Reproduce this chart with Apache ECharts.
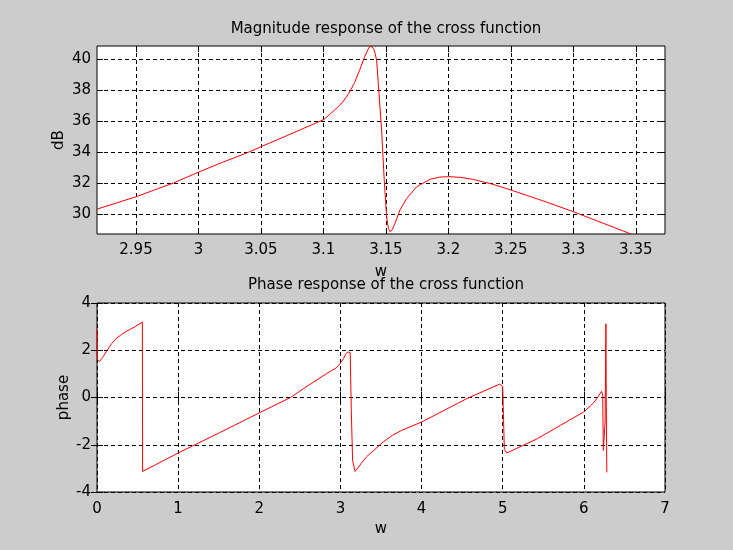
<!DOCTYPE html>
<html>
<head>
<meta charset="utf-8">
<script src="https://cdn.jsdelivr.net/npm/echarts@6/dist/echarts.min.js"></script>
<style>
html,body{margin:0;padding:0;background:#cccccc;}
#chart{width:733px;height:550px;}
</style>
</head>
<body>
<div id="chart"></div>
<script>
// ---- Magnitude response (top) ----
const magW = [2.9188, 2.93, 2.95, 2.965, 2.98, 3.0, 3.02, 3.04, 3.05, 3.07, 3.09, 3.1, 3.105, 3.11, 3.115, 3.12, 3.125, 3.129, 3.133, 3.1355, 3.1373, 3.139, 3.1407, 3.1426, 3.1466, 3.1487, 3.1506, 3.152, 3.1533, 3.155, 3.1573, 3.1613, 3.1667, 3.1747, 3.1853, 3.193, 3.2004, 3.21, 3.22, 3.235, 3.25, 3.28, 3.3, 3.3462];
const magDB = [30.34, 30.62, 31.13, 31.58, 32.02, 32.72, 33.38, 34.0, 34.36, 35.05, 35.75, 36.1, 36.45, 36.8, 37.2, 37.75, 38.5, 39.3, 40.17, 40.6, 40.85, 40.8, 40.6, 39.95, 35.44, 32.2, 29.85, 29.1, 28.88, 29.0, 29.42, 30.28, 31.03, 31.78, 32.26, 32.4, 32.43, 32.38, 32.25, 31.95, 31.57, 30.75, 30.17, 28.73];
const magXTicks = [2.95, 3, 3.05, 3.1, 3.15, 3.2, 3.25, 3.3, 3.35];
const magYTicks = [30, 32, 34, 36, 38, 40];

// ---- Phase response (bottom) ----
const phW = [0, 0.005, 0.03, 0.07, 0.127, 0.18, 0.24, 0.3, 0.357, 0.47, 0.559, 0.562, 1.0, 1.51, 2.0, 2.385, 2.546, 2.834, 2.95, 3.0, 3.04, 3.065, 3.093, 3.12, 3.134, 3.15, 3.18, 3.208, 3.266, 3.324, 3.41, 3.525, 3.64, 3.756, 4.0, 4.562, 4.965, 4.985, 5.0, 5.02, 5.05, 5.43, 5.71, 6.0, 6.09, 6.146, 6.187, 6.218, 6.232, 6.24, 6.262, 6.272, 6.276, 6.283];
const phV = [2.89, 1.6, 1.52, 1.7, 2.01, 2.28, 2.51, 2.66, 2.79, 3.0, 3.19, -3.13, -2.35, -1.49, -0.65, 0.0, 0.38, 1.02, 1.26, 1.45, 1.66, 1.84, 1.93, 1.9, -0.54, -2.67, -3.13, -3.02, -2.74, -2.5, -2.24, -1.89, -1.6, -1.39, -1.04, -0.04, 0.57, 0.6, 0.45, -2.2, -2.35, -1.74, -1.18, -0.61, -0.33, -0.11, 0.1, 0.26, 0.1, -2.24, -1.0, 3.12, 0.0, -3.17];

const magData = magW.map((w, i) => [w, magDB[i]]);
const phData = phW.map((w, i) => [w, phV[i]]);

const FONT = 'DejaVu Sans';
const txt = {fontFamily: FONT, fontSize: 15, color: '#000'};
const grid = {show: true, backgroundColor: '#fff', borderColor: '#000', borderWidth: 1};
const splitLine = {show: true, lineStyle: {color: '#000', type: [4, 3], width: 1}};
const tickIn = {show: true, inside: true, length: 6, lineStyle: {color: '#000'}};

const chart = echarts.init(document.getElementById('chart'), null, {renderer: 'canvas'});
chart.setOption({
  backgroundColor: '#cccccc',
  animation: false,
  title: [
    {text: 'Magnitude response of the cross function', left: 381, top: 17, textAlign: 'center',
     textStyle: {fontFamily: FONT, fontSize: 15, fontWeight: 'normal', color: '#000'}},
    {text: 'Phase response of the cross function', left: 381, top: 273, textAlign: 'center',
     textStyle: {fontFamily: FONT, fontSize: 15, fontWeight: 'normal', color: '#000'}}
  ],
  grid: [
    Object.assign({left: 97, top: 46, width: 568, height: 188}, grid),
    Object.assign({left: 97, top: 303, width: 568, height: 189}, grid)
  ],
  xAxis: [
    {type: 'value', gridIndex: 0, min: 2.9188, max: 3.3734, position: 'bottom',
     name: 'w', nameLocation: 'middle', nameGap: 31, nameMoveOverlap: false, nameTextStyle: txt,
     axisLine: {show: false}, axisTick: Object.assign({customValues: magXTicks}, tickIn),
     axisLabel: Object.assign({customValues: magXTicks, margin: 9}, txt), splitLine: splitLine},
    {type: 'value', gridIndex: 0, min: 2.9188, max: 3.3734, position: 'top',
     axisLine: {show: false}, axisTick: Object.assign({customValues: magXTicks}, tickIn),
     axisLabel: {show: false}, splitLine: {show: false}},
    {type: 'value', gridIndex: 1, min: 0, max: 7, interval: 1, position: 'bottom',
     name: 'w', nameLocation: 'middle', nameGap: 30, nameMoveOverlap: false, nameTextStyle: txt,
     axisLine: {show: false}, axisTick: tickIn,
     axisLabel: Object.assign({margin: 10}, txt), splitLine: splitLine},
    {type: 'value', gridIndex: 1, min: 0, max: 7, interval: 1, position: 'top',
     axisLine: {show: false}, axisTick: tickIn, axisLabel: {show: false}, splitLine: {show: false}}
  ],
  yAxis: [
    {type: 'value', gridIndex: 0, min: 28.73, max: 40.86, position: 'left',
     name: 'dB', nameLocation: 'middle', nameGap: 30, nameMoveOverlap: false, nameTextStyle: txt,
     axisLine: {show: false}, axisTick: Object.assign({customValues: magYTicks}, tickIn),
     axisLabel: Object.assign({customValues: magYTicks, margin: 6}, txt), splitLine: splitLine},
    {type: 'value', gridIndex: 0, min: 28.73, max: 40.86, position: 'right',
     axisLine: {show: false}, axisTick: Object.assign({customValues: magYTicks}, tickIn),
     axisLabel: {show: false}, splitLine: {show: false}},
    {type: 'value', gridIndex: 1, min: -4, max: 4, interval: 2, position: 'left',
     name: 'phase', nameLocation: 'middle', nameGap: 25, nameMoveOverlap: false, nameTextStyle: txt,
     axisLine: {show: false}, axisTick: tickIn,
     axisLabel: Object.assign({margin: 6}, txt), splitLine: splitLine},
    {type: 'value', gridIndex: 1, min: -4, max: 4, interval: 2, position: 'right',
     axisLine: {show: false}, axisTick: tickIn, axisLabel: {show: false}, splitLine: {show: false}}
  ],
  series: [
    {type: 'line', xAxisIndex: 0, yAxisIndex: 0, data: magData, showSymbol: false, smooth: false,
     lineStyle: {color: '#ff0000', width: 1}, clip: true},
    {type: 'line', xAxisIndex: 2, yAxisIndex: 2, data: phData, showSymbol: false, smooth: false,
     lineStyle: {color: '#ff0000', width: 1}, clip: true}
  ]
});
</script>
</body>
</html>
